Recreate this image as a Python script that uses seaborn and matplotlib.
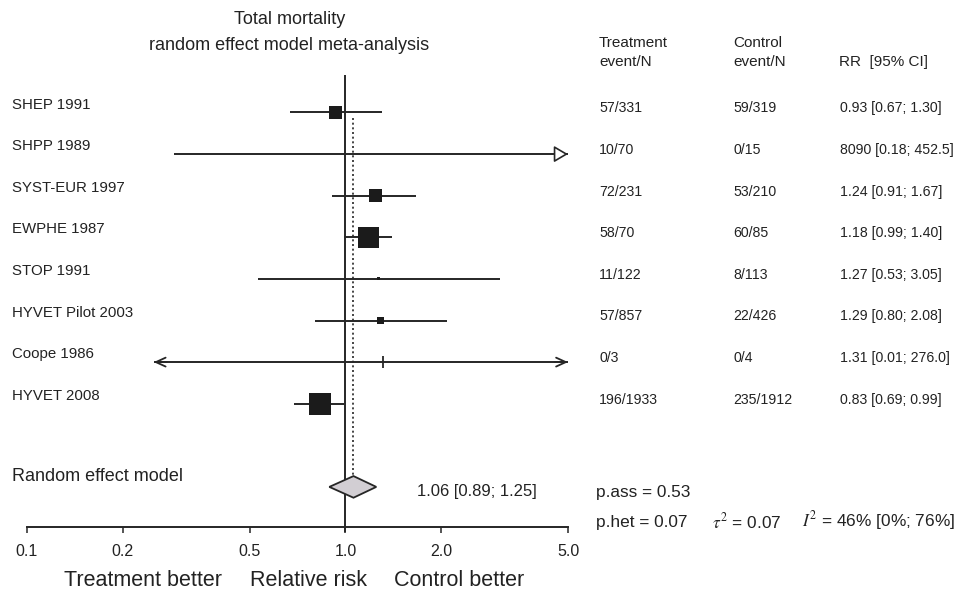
import numpy as np
import pandas as pd
import matplotlib
matplotlib.use("Agg")
import matplotlib.pyplot as plt
import seaborn as sns
from matplotlib.patches import Polygon
from matplotlib.transforms import blended_transform_factory

# ---------------- data ----------------
studies = ["SHEP 1991", "SHPP 1989", "SYST-EUR 1997", "EWPHE 1987", "STOP 1991",
           "HYVET Pilot 2003", "Coope 1986", "HYVET 2008"]
rr = [0.93, np.nan, 1.24, 1.18, 1.27, 1.29, 1.31, 0.83]
line_lo = [0.67, 0.29, 0.91, 0.99, 0.53, 0.80, 0.25, 0.69]   # drawn interval ends
line_hi = [1.30, 5.0, 1.67, 1.40, 3.05, 2.08, 5.0, 0.99]
weights = [12.7, 0.0, 12.7, 33.2, 0.7, 4.2, 0.0, 36.4]
arrow_left = [False, False, False, False, False, False, True, False]
arrow_right = [False, True, False, False, False, False, True, False]
treat = ["57/331", "10/70", "72/231", "58/70", "11/122", "57/857", "0/3", "196/1933"]
control = ["59/319", "0/15", "53/210", "60/85", "8/113", "22/426", "0/4", "235/1912"]
rr_text = ["0.93 [0.67; 1.30]", "8090 [0.18; 452.5]", "1.24 [0.91; 1.67]",
           "1.18 [0.99; 1.40]", "1.27 [0.53; 3.05]", "1.29 [0.80; 2.08]",
           "1.31 [0.01; 276.0]", "0.83 [0.69; 0.99]"]
pooled = 1.06
pooled_lo = 0.89
pooled_hi = 1.25
pooled_text = "1.06 [0.89; 1.25]"
xticks = [0.1, 0.2, 0.5, 1.0, 2.0, 5.0]
xtick_labels = ["0.1", "0.2", "0.5", "1.0", "2.0", "5.0"]

df = pd.DataFrame({"study": studies, "rr": rr, "lo": line_lo, "hi": line_hi,
                   "weight": weights, "row": np.arange(len(studies))})

# ---------------- style ----------------
sns.set_style("white")
plt.rcParams["font.family"] = ["Liberation Sans", "DejaVu Sans"]
plt.rcParams["mathtext.fontset"] = "stix"
TXT = "#222222"
LINE = "#262626"

W, H = 957, 594
fig = plt.figure(figsize=(W / 100, H / 100), dpi=100)

def fx(px):
    return px / W

def fy(py):
    return 1 - py / H

# axes in pixel layout: left 27, right 568, top 60, bottom 527
ax = fig.add_axes([fx(27), fy(527), fx(568 - 27), (527 - 60) / H])
row0, rowstep = 112.5, 41.6
def prow(py):
    return (py - row0) / rowstep

ax.set_xscale("log")
ax.set_xlim(0.1, 5.0)
ax.set_ylim(prow(527), prow(60))

# CI lines
ax.hlines(df["row"], df["lo"], df["hi"], color=LINE, lw=1.4, zorder=2)

# arrowheads
for i in range(len(studies)):
    if arrow_right[i] and not arrow_left[i]:
        ax.annotate("", xy=(line_hi[i], i), xytext=(line_hi[i] * 0.93, i),
                    arrowprops=dict(arrowstyle="-|>,head_length=0.85,head_width=0.5",
                                    fc="white", ec=LINE, lw=1.2, shrinkA=0, shrinkB=0),
                    annotation_clip=False)
    if arrow_left[i]:
        ax.annotate("", xy=(line_lo[i], i), xytext=(line_lo[i] * 1.1, i),
                    arrowprops=dict(arrowstyle="->,head_length=0.7,head_width=0.32",
                                    color=LINE, lw=1.3, shrinkA=0, shrinkB=0),
                    annotation_clip=False)
        ax.annotate("", xy=(line_hi[i], i), xytext=(line_hi[i] / 1.1, i),
                    arrowprops=dict(arrowstyle="->,head_length=0.7,head_width=0.32",
                                    color=LINE, lw=1.3, shrinkA=0, shrinkB=0),
                    annotation_clip=False)

# Coope point estimate tick (no box)
ax.vlines(rr[6], 6 - 0.14, 6 + 0.14, color=LINE, lw=1.3, zorder=3)

# weighted squares
box = df[df["weight"] > 0]
max_side_pt = 22 * 0.72
sns.scatterplot(data=box, x="rr", y="row", size="weight",
                sizes=(0, max_side_pt ** 2), size_norm=(0, max(weights)),
                marker="s", color="#1b1b1b", linewidth=0, legend=False,
                ax=ax, zorder=4)

# null line
ax.vlines(1.0, prow(75), prow(532), color=LINE, lw=1.4, zorder=1, clip_on=False)
# pooled dotted line
ax.vlines(pooled, prow(118), 9 - 0.26, color=LINE, lw=1.2, ls=(0, (1.2, 1.6)), zorder=1)

# diamond
d = Polygon([(pooled_lo, 9), (pooled, 9 - 0.26), (pooled_hi, 9), (pooled, 9 + 0.26)],
            closed=True, fc="#d2ced3", ec=LINE, lw=1.3, zorder=5)
ax.add_patch(d)

# axes styling
for s in ["top", "right", "left"]:
    ax.spines[s].set_visible(False)
ax.spines["bottom"].set_color(LINE)
ax.spines["bottom"].set_linewidth(1.4)
ax.set_yticks([])
ax.set_xticks(xticks)
ax.set_xticklabels(xtick_labels)
ax.xaxis.set_minor_locator(matplotlib.ticker.NullLocator())
ax.tick_params(axis="x", direction="out", length=4, width=1.1, color=LINE,
               labelsize=11.5, labelcolor=TXT, pad=8, bottom=True)
ax.set_xlabel("")
ax.set_ylabel("")

# texts: left labels and table
trL = blended_transform_factory(fig.transFigure, ax.transData)
for i in range(len(studies)):
    ax.text(fx(12), i - 0.19, studies[i], transform=trL, ha="left", va="center",
            fontsize=10.8, color=TXT, clip_on=False)
    ax.text(fx(599), i - 0.1, treat[i], transform=trL, ha="left", va="center",
            fontsize=10.2, color=TXT, clip_on=False)
    ax.text(fx(733), i - 0.1, control[i], transform=trL, ha="left", va="center",
            fontsize=10.2, color=TXT, clip_on=False)
    ax.text(fx(840), i - 0.1, rr_text[i], transform=trL, ha="left", va="center",
            fontsize=10.2, color=TXT, clip_on=False)

ax.text(fx(12), 9 - 0.24, "Random effect model", transform=trL, ha="left", va="center",
        fontsize=13, color=TXT, clip_on=False)
ax.text(fx(417), 9 + 0.1, pooled_text, transform=trL, ha="left", va="center",
        fontsize=12, color=TXT, clip_on=False)

# headers
fig.text(fx(599), fy(43), "Treatment", ha="left", va="center", fontsize=11, color=TXT)
fig.text(fx(599), fy(62), "event/N", ha="left", va="center", fontsize=11, color=TXT)
fig.text(fx(733), fy(43), "Control", ha="left", va="center", fontsize=11, color=TXT)
fig.text(fx(733), fy(62), "event/N", ha="left", va="center", fontsize=11, color=TXT)
fig.text(fx(839), fy(62), "RR  [95% CI]", ha="left", va="center", fontsize=11, color=TXT)

# title
fig.text(fx(290), fy(19), "Total mortality", ha="center", va="center", fontsize=13, color=TXT)
fig.text(fx(289), fy(46), "random effect model meta-analysis", ha="center", va="center",
         fontsize=13, color=TXT)

# stats
fig.text(fx(596), fy(492), "p.ass = 0.53", ha="left", va="center", fontsize=12.4, color=TXT)
fig.text(fx(596), fy(522), "p.het = 0.07", ha="left", va="center", fontsize=12.4, color=TXT)
fig.text(fx(712), fy(521), r"$\tau^2$ = 0.07", ha="left", va="center", fontsize=12.4, color=TXT)
fig.text(fx(802), fy(521), r"$I^2$ = 46% [0%; 76%]", ha="left", va="center", fontsize=12.4, color=TXT)

# bottom labels
fig.text(fx(143), fy(580), "Treatment better", ha="center", va="center", fontsize=15.5, color=TXT)
fig.text(fx(309), fy(580), "Relative risk", ha="center", va="center", fontsize=15.5, color=TXT)
fig.text(fx(459), fy(580), "Control better", ha="center", va="center", fontsize=15.5, color=TXT)

fig.savefig("out.png", dpi=100)
